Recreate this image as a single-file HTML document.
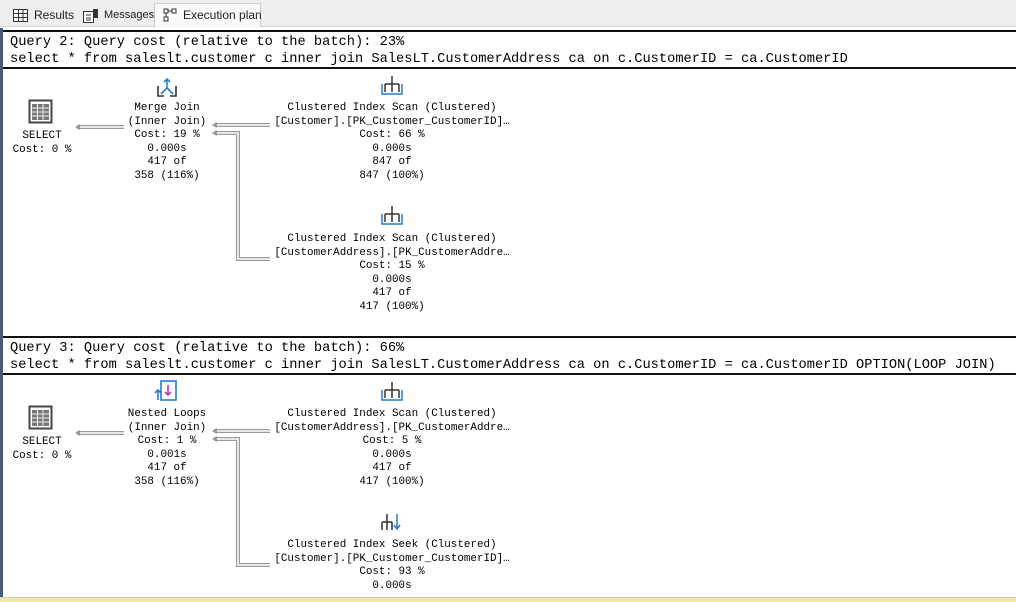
<!DOCTYPE html>
<html><head><meta charset="utf-8"><style>
*{margin:0;padding:0;box-sizing:border-box}
body{width:1016px;height:602px;position:relative;background:#fff;overflow:hidden;font-family:"Liberation Mono",monospace}
.abs{position:absolute}
.tabbar{left:0;top:0;width:1016px;height:27px;background:#eeeeee;border-bottom:1px solid #d4d4d4}
.tab{position:absolute;top:5px;height:21px;font:12px "Liberation Sans",sans-serif;color:#1e1e1e;line-height:20px;padding-left:26px;white-space:nowrap}
.q{left:10px;font-size:13.7px;color:#000;white-space:pre;line-height:17px}
.hl{left:3px;width:1013px;height:2px;background:#111}
.n{font-size:10.9px;line-height:13.6px;text-align:center;white-space:pre;color:#000}
</style></head><body>
<div class="abs tabbar"></div>
<div class="tab" style="left:8px;width:66px">Results
 <svg class="abs" style="left:5px;top:4px" width="15" height="13"><rect x=".5" y=".5" width="14" height="12" fill="#fff" stroke="#333"/><path d="M1 4.5H14M1 8.5H14M5.5 1V12M10 1V12" stroke="#333"/></svg></div>
<div class="tab" style="left:78px;width:76px;font-size:11px">Messages
 <svg class="abs" style="left:5px;top:3px" width="16" height="15"><rect x=".5" y="3.5" width="10" height="11" fill="#fff" stroke="#333"/><path d="M3 7H8M3 10H8M3 12H8" stroke="#333"/><rect x="10" y="1" width="5" height="9" fill="#333"/></svg></div>
<div class="tab" style="left:154px;top:3px;height:24px;width:107px;background:#fafafa;border:1px solid #ccc;border-bottom:none;line-height:22px;padding-left:28px">Execution plan
 <svg class="abs" style="left:8px;top:4px" width="16" height="14"><rect x="1" y="1" width="4" height="4" fill="none" stroke="#333"/><rect x="9" y="1" width="4" height="4" fill="none" stroke="#333"/><rect x="1" y="9" width="4" height="4" fill="none" stroke="#333"/><path d="M5 3H9M3 5V9" stroke="#333"/></svg></div>
<div class="abs" style="left:0;top:28px;width:3px;height:570px;background:#4a5a7a"></div>
<div class="abs" style="left:0;top:597px;width:1016px;height:5px;background:#f0eaa0;border-top:1px solid #ccc"></div>

<div class="abs hl" style="top:30px"></div>
<div class="abs q" style="top:34px">Query 2: Query cost (relative to the batch): 23%</div>
<div class="abs q" style="top:51px">select * from saleslt.customer c inner join SalesLT.CustomerAddress ca on c.CustomerID = ca.CustomerID</div>
<div class="abs hl" style="top:67px"></div>

<div class="abs hl" style="top:336px"></div>
<div class="abs q" style="top:340px">Query 3: Query cost (relative to the batch): 66%</div>
<div class="abs q" style="top:357px">select * from saleslt.customer c inner join SalesLT.CustomerAddress ca on c.CustomerID = ca.CustomerID OPTION(LOOP JOIN)</div>
<div class="abs hl" style="top:373px"></div>

<svg class="abs" style="left:0;top:0" width="1016" height="602">
<defs>
<g id="sel"><rect x="29.5" y="100.5" width="22" height="22" fill="#fff" stroke="#444" stroke-width="2"/><rect x="32" y="104" width="17" height="16" fill="#777"/><path d="M32 108H49M32 112H49M32 116H49M37.5 104V120M43 104V120" stroke="#eee"/></g>
<g id="scan" fill="none" stroke="#333" stroke-width="1.5"><path d="M392 76V84M385 84H399M385 84V92M392 84V92M399 84V92"/><path d="M382 84V94H402V84" stroke="#2a7bd0"/></g>
<g id="conn" fill="none"><g stroke="#999" stroke-width="4"><path d="M77 127H124M214 125H270M214 133H238V259H270"/></g><g stroke="#fff" stroke-width="1.6"><path d="M79 127H124M216 125H270M216 133H238V259H270"/></g><path d="M75 127l5-3v6z M212 125l5-3v6z M212 133l5-3v6z" fill="#999"/></g>
</defs>
<use href="#sel"/><use href="#sel" y="306"/>
<use href="#conn"/><use href="#conn" y="306"/>
<g fill="none" stroke="#333" stroke-width="1.6"><path d="M158 86V96H164M176 86V96H170"/><path d="M167 79V88L161 94M167 88L173 94" stroke="#2a7bd0"/><path d="M164 82L167 79L170 82" stroke="#2a7bd0"/></g>
<use href="#scan"/><use href="#scan" y="130"/><use href="#scan" y="306"/>
<g fill="none" stroke-width="1.6"><rect x="161" y="381" width="15" height="19" stroke="#2a7bd0"/><path d="M168 385V395M165 392L168 395L171 392" stroke="#b040b0"/><path d="M158 400V390M155 393L158 390L161 393" stroke="#2a7bd0"/></g>
<g fill="none" stroke="#333" stroke-width="1.5"><path d="M387 514V522M382 522H392M382 522V530M387 522V530M392 522V530"/><path d="M397 514V528M394 525L397 529L400 525" stroke="#2a7bd0"/></g>
</svg>

<div class="abs n" style="left:0;width:84px;top:130px">SELECT
Cost: 0 %</div>
<div class="abs n" style="left:107px;width:120px;top:102px">Merge Join
(Inner Join)
Cost: 19 %
0.000s
417 of
358 (116%)</div>
<div class="abs n" style="left:272px;width:240px;top:102px">Clustered Index Scan (Clustered)
[Customer].[PK_Customer_CustomerID]…
Cost: 66 %
0.000s
847 of
847 (100%)</div>
<div class="abs n" style="left:272px;width:240px;top:233px">Clustered Index Scan (Clustered)
[CustomerAddress].[PK_CustomerAddre…
Cost: 15 %
0.000s
417 of
417 (100%)</div>

<div class="abs n" style="left:0;width:84px;top:436px">SELECT
Cost: 0 %</div>
<div class="abs n" style="left:107px;width:120px;top:408px">Nested Loops
(Inner Join)
Cost: 1 %
0.001s
417 of
358 (116%)</div>
<div class="abs n" style="left:272px;width:240px;top:408px">Clustered Index Scan (Clustered)
[CustomerAddress].[PK_CustomerAddre…
Cost: 5 %
0.000s
417 of
417 (100%)</div>
<div class="abs n" style="left:272px;width:240px;top:539px">Clustered Index Seek (Clustered)
[Customer].[PK_Customer_CustomerID]…
Cost: 93 %
0.000s</div>
</body></html>
